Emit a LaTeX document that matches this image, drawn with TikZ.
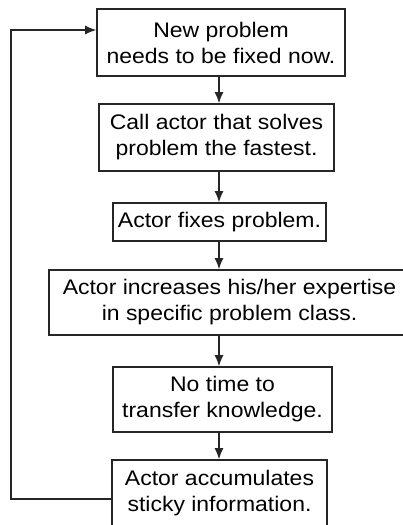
\documentclass[tikz,border=0pt]{standalone}
\usepackage{fontspec}
\setmainfont{Liberation Sans}[FakeStretch=1.09]
\usetikzlibrary{arrows.meta}
\usetikzlibrary{calc}

\begin{document}
\begin{tikzpicture}[auto,
    box/.style={draw=black!85, line width=1.1pt, inner sep=0pt, align=center,
                font=\fontsize{15pt}{18.5pt}\selectfont},
    flow/.style={-{Latex[length=2.8mm,width=2.3mm]}, line width=0.9pt, black!85}]

        \useasboundingbox (0, 0) rectangle (10.075, 13.125);
        \clip (0, 0) rectangle (10.075, 13.125);

      	\node[box, minimum width=6.2cm, minimum height=1.675cm] (prob) at (5.525, 12.0625)
      	    {New problem\\needs to be fixed now.};

      	\node[box, minimum width=5.875cm, minimum height=1.675cm] (call) at (5.4125, 9.6875)
      	    {Call actor that solves\\problem the fastest.};

      	\node[box, minimum width=5.325cm, minimum height=0.95cm] (fix) at (5.4875, 7.575)
      	    {Actor fixes problem.};

      	\node[box, minimum width=9.025cm, minimum height=1.625cm] (expert) at (5.7375, 5.5625)
      	    {Actor increases his/her expertise\\in specific problem class.};

      	\node[box, minimum width=5.475cm, minimum height=1.625cm] (notime) at (5.5625, 3.1375)
      	    {No time to\\transfer knowledge.};

      	\node[box, minimum width=5.375cm, minimum height=1.65cm] (sticky) at (5.4875, 0.8)
      	    {Actor accumulates\\sticky information.};

	\coordinate (spine) at (5.475, 0);
	\coordinate (loopbot) at (0.275, 0.65);
	\coordinate (looptop) at (0.275, 12.375);

	% main chain
	\draw[flow] (prob.south -| spine) -- (call.north -| spine);
	\draw[flow] (call.south -| spine) -- (fix.north -| spine);
	\draw[flow] (fix.south -| spine) -- (expert.north -| spine);
	\draw[flow] (expert.south -| spine) -- (notime.north -| spine);
	\draw[flow] (notime.south -| spine) -- (sticky.north -| spine);

	% back to the start
	\draw[flow] (sticky.west |- loopbot) -- (loopbot) -- (looptop) -- (prob.west |- looptop);

\end{tikzpicture}
\end{document}
